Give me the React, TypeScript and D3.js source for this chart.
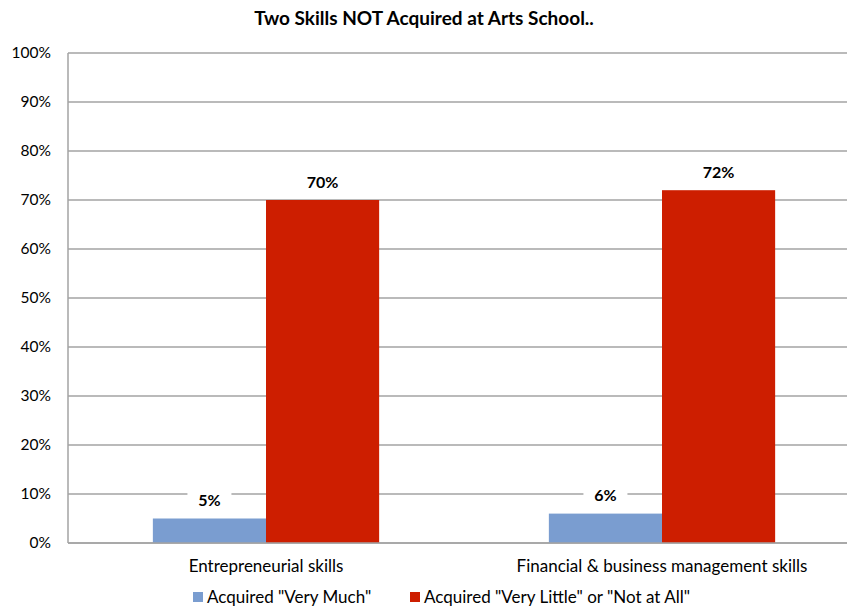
import React from "react";
import * as d3 from "d3";

const categories = ["Entrepreneurial skills", "Financial & business management skills"];
const seriesNames = ['Acquired "Very Much"', 'Acquired "Very Little" or "Not at All"'];
const veryMuch = [5, 6];
const veryLittle = [70, 72];
const yTicks = [0, 10, 20, 30, 40, 50, 60, 70, 80, 90, 100];
const colors = ["#7A9DD0", "#CD1E00"];

const width = 847;
const height = 608;
const font = "Lato, 'Open Sans', sans-serif";

const App: React.FC = () => {
  const x = d3
    .scaleBand<string>()
    .domain(categories)
    .range([68, 860])
    .paddingInner(1.5 / 3.5)
    .paddingOuter(0.75 / 3.5);
  const y = d3.scaleLinear().domain([0, 100]).range([543, 53]);
  const bw = x.bandwidth() / 2;
  const series = [veryMuch, veryLittle];

  return (
    <svg
      width={width}
      height={height}
      style={{ position: "absolute", left: 0, top: 0, background: "#fff" }}
      fontFamily={font}
    >
      <text x={424} y={25} textAnchor="middle" fontSize={19} fontWeight="bold" fill="#000">
        Two Skills NOT Acquired at Arts School..
      </text>

      {yTicks.map((t) => (
        <g key={t}>
          <line x1={68} x2={847} y1={y(t)} y2={y(t)} stroke="#A3A3A3" strokeWidth={1.5} />
          <text x={51} y={y(t)} dy="0.35em" textAnchor="end" fontSize={15.5} fill="#000">
            {t}%
          </text>
        </g>
      ))}
      <line x1={68} x2={68} y1={y(100)} y2={y(0)} stroke="#A3A3A3" strokeWidth={1.5} />

      {series.map((vals, si) =>
        vals.map((v, ci) => {
          const bx = (x(categories[ci]) as number) + si * bw;
          return (
            <rect
              key={`${si}-${ci}`}
              x={bx}
              y={y(v)}
              width={bw}
              height={y(0) - y(v)}
              fill={colors[si]}
            />
          );
        })
      )}
      <line x1={68} x2={847} y1={y(0)} y2={y(0)} stroke="#A3A3A3" strokeWidth={1.5} />

      {series.map((vals, si) =>
        vals.map((v, ci) => {
          const cx = (x(categories[ci]) as number) + si * bw + bw / 2;
          const cy = y(v) - 18;
          return (
            <g key={`l-${si}-${ci}`}>
              <rect x={cx - 22} y={cy - 10} width={44} height={20} fill="#fff" />
              <text x={cx} y={cy} dy="0.35em" textAnchor="middle" fontSize={16} fontWeight="bold" fill="#000">
                {v}%
              </text>
            </g>
          );
        })
      )}

      {categories.map((c) => (
        <text
          key={c}
          x={(x(c) as number) + x.bandwidth() / 2}
          y={566}
          dy="0.35em"
          textAnchor="middle"
          fontSize={17}
          fill="#000"
        >
          {c}
        </text>
      ))}

      {seriesNames.map((n, i) => {
        const lx = [193, 410][i];
        return (
          <g key={n}>
            <rect x={lx} y={592} width={10} height={10} fill={colors[i]} />
            <text x={lx + 14} y={597} dy="0.35em" fontSize={17} fill="#000">
              {n}
            </text>
          </g>
        );
      })}
    </svg>
  );
};

export default App;
